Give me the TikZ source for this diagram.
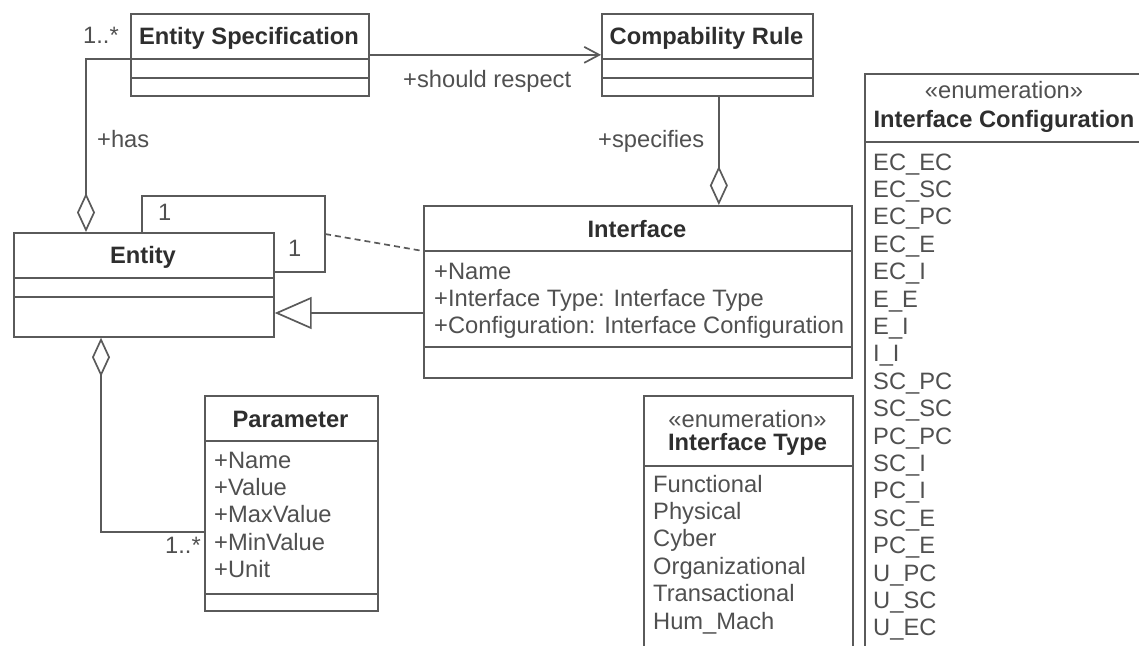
\documentclass[tikz,border=0pt]{standalone}
\usepackage{fontspec}
\setmainfont{Liberation Sans}
\usetikzlibrary{arrows.meta}
\definecolor{umlline}{HTML}{5A5A5A}
\definecolor{umltext}{HTML}{2E2E2E}
\definecolor{umlattr}{HTML}{505050}

\begin{document}
\begin{tikzpicture}[x=1pt, y=-1pt, every node/.style={inner sep=0pt, font=\fontsize{23.7}{27.4}\selectfont}]
\tikzset{
  umlbox/.style={draw=umlline, line width=1.7pt, anchor=north west, fill=white},
  ctitle/.style={anchor=base, font=\fontsize{23.7}{27.4}\selectfont\bfseries, text=umltext},
  attr/.style={anchor=base west, text=umlattr},
  rule/.style={draw=umlline, line width=1.7pt},
  aggr/.style={rule, -{Diamond[open, length=39pt, width=18pt]}},
  gen/.style={rule, -{Triangle[open, length=37pt, width=32pt]}},
  nav/.style={rule, -{Straight Barb[length=15pt, width=16pt]}}
}
\useasboundingbox (0,0) rectangle (1139,645);
% class boxes
\node[umlbox, minimum width=238pt, minimum height=82pt] (espec) at (130,13) {};
\node[umlbox, minimum width=211pt, minimum height=82pt] (crule) at (601,13) {};
\node[umlbox, minimum width=260pt, minimum height=104pt] (entity) at (13,232) {};
\node[umlbox, minimum width=428pt, minimum height=172pt] (iface) at (423,205) {};
\node[umlbox, minimum width=173pt, minimum height=215pt] (param) at (204,395) {};
\node[umlbox, minimum width=209pt, minimum height=300pt] (itype) at (643,395) {};
\node[umlbox, minimum width=280pt, minimum height=650pt] (icfg) at (864,73) {};
% compartments
\draw[rule] (espec.west |- 0,59) -- (espec.east |- 0,59); \draw[rule] (espec.west |- 0,78) -- (espec.east |- 0,78);
\draw[rule] (crule.west |- 0,59) -- (crule.east |- 0,59); \draw[rule] (crule.west |- 0,78) -- (crule.east |- 0,78);
\draw[rule] (entity.west |- 0,278) -- (entity.east |- 0,278); \draw[rule] (entity.west |- 0,297) -- (entity.east |- 0,297);
\draw[rule] (iface.west |- 0,251) -- (iface.east |- 0,251); \draw[rule] (iface.west |- 0,347) -- (iface.east |- 0,347);
\draw[rule] (param.west |- 0,441) -- (param.east |- 0,441); \draw[rule] (param.west |- 0,594) -- (param.east |- 0,594);
\draw[rule] (itype.west |- 0,466) -- (itype.east |- 0,466);
\draw[rule] (icfg.west |- 0,142) -- (icfg.east |- 0,142);
% titles
\node[ctitle] (especT) at (249,44.5) {Entity Specification};
\node[ctitle] (cruleT) at (706.5,44.5) {Compability Rule};
\node[ctitle] (entityT) at (143,263) {Entity};
\node[ctitle] (ifaceT) at (637,237) {Interface};
\node[ctitle] (paramT) at (290.5,427) {Parameter};
\node[anchor=base, text=umlattr] (itypeS) at (747.5,427) {«enumeration»};
\node[ctitle] (itypeT) at (747.5,450) {Interface Type};
\node[anchor=base, text=umlattr] (icfgS) at (1004,98) {«enumeration»};
\node[ctitle] (icfgT) at (1004,127) {Interface Configuration};
% attributes
\node[attr] (ifaceA) at (434,279) {+Name};
\node[attr] (ifaceB) at (434,306.4) {+Interface Type: Interface Type};
\node[attr] (ifaceC) at (434,333.8) {+Configuration: Interface Configuration};
\node[attr] (paramA) at (214,468) {+Name}; \node[attr] (paramB) at (214,495.4) {+Value};
\node[attr] (paramC) at (214,522.8) {+MaxValue}; \node[attr] (paramD) at (214,550.2) {+MinValue};
\node[attr] (paramE) at (214,577.6) {+Unit};
% literals
\node[attr] (itypeA) at (653,492) {Functional}; \node[attr] (itypeB) at (653,519.4) {Physical};
\node[attr] (itypeC) at (653,546.8) {Cyber}; \node[attr] (itypeD) at (653,574.2) {Organizational};
\node[attr] (itypeE) at (653,601.6) {Transactional}; \node[attr] (itypeF) at (653,629) {Hum\_Mach};
\foreach \lit [count=\i from 0] in {EC\_EC, EC\_SC, EC\_PC, EC\_E, EC\_I, E\_E, E\_I, I\_I, SC\_PC,
    SC\_SC, PC\_PC, SC\_I, PC\_I, SC\_E, PC\_E, U\_PC, U\_SC, U\_EC}
  \node[attr] (icfg\i) at (873,{170+27.4*\i}) {\lit};
% associations
\draw[nav] (espec.east) -- (crule.west);
\node[attr] (respect) at (403,87) {+should respect};
\draw[aggr] ([yshift=-4pt]espec.west) -| ([xshift=73pt]entity.north west);
\node[attr] (has) at (97,147) {+has};
\node[attr] (especM) at (83,43) {1..*};
\coordinate (spec) at ([xshift=11.5pt]crule.south);
\draw[aggr] (spec) -- (spec |- iface.north);
\node[attr] (specifies) at (598,147) {+specifies};
% self association with class link
\coordinate (loopTL) at (142,196);
\coordinate (loopBR) at (325,272);
\draw[rule] (entity.north -| loopTL) -- (loopTL) -| (loopBR) -- (entity.east |- loopBR);
\node[attr] (selfA) at (158,220) {1};
\node[attr] (selfB) at (288,256) {1};
\draw[rule, dash pattern=on 6pt off 4pt] (loopBR |- 0,234) -- ([yshift=-46pt]iface.north west);
% generalization
\draw[gen] (iface.west |- 0,313) -- (entity.east |- 0,313);
% parameters
\draw[aggr] (param.west |- 0,532) -| ([xshift=88pt]entity.south west);
\node[attr] (paramM) at (165,553) {1..*};
\end{tikzpicture}
\end{document}
